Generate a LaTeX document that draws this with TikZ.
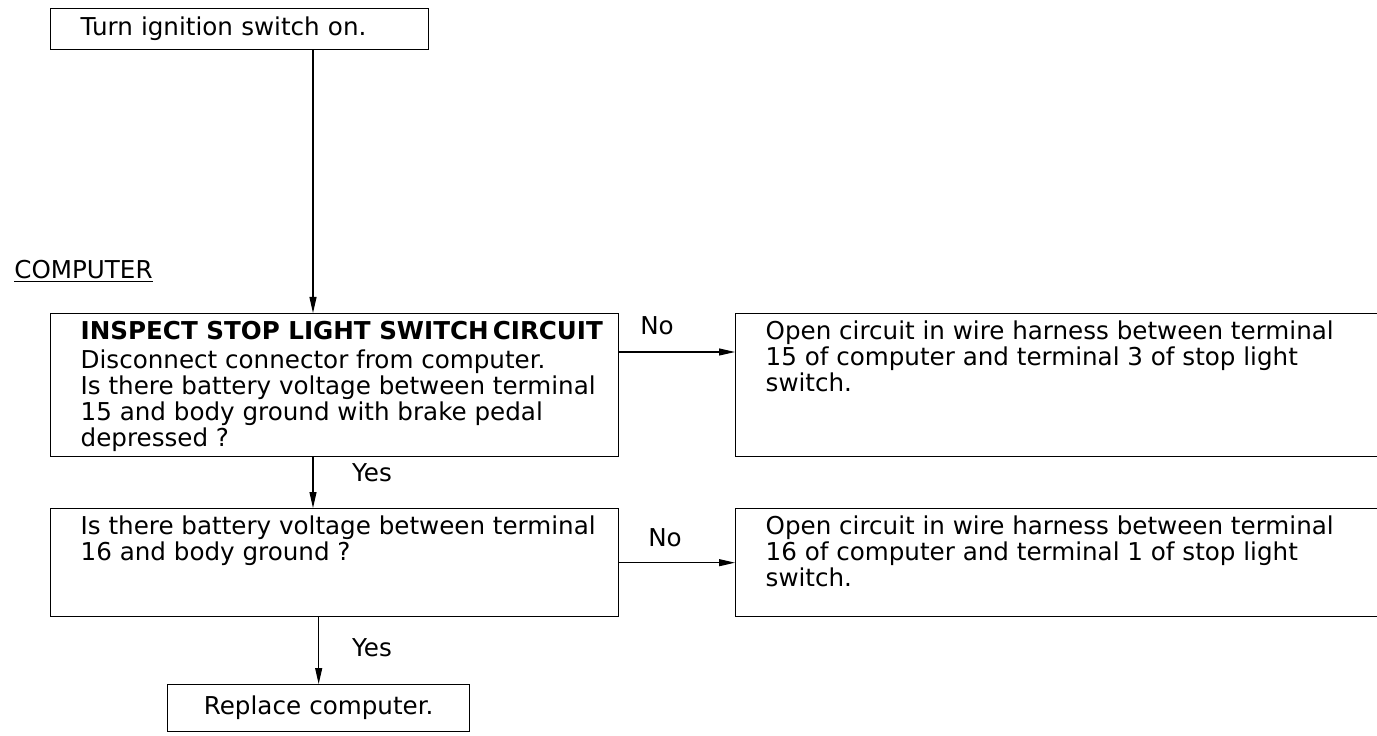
\documentclass[tikz,border=0pt]{standalone}
\usepackage{fontspec}
\setmainfont{DejaVu Sans}
\usetikzlibrary{arrows.meta}
\newcommand{\boxlines}[3]{\parbox[c][#1][t]{#2}{\raggedright\leftskip=0.6cm\vspace*{0.15cm}#3}}

\begin{document}
\begin{tikzpicture}[x=0.02cm,y=-0.02cm,
  font=\fontsize{14pt}{14.8pt}\selectfont,
  box/.style={draw,line width=0.8pt,anchor=north west,inner ysep=0pt,inner xsep=0.6cm,align=left},
  tbox/.style={box,inner xsep=0pt},
  arr/.style={line width=0.6pt,-{Triangle[length=0.32cm,width=0.14cm]}}]
\useasboundingbox (0,0) rectangle (1377,736);
\clip (0,0) rectangle (1377,736);
\node[box,text width=6.36cm,minimum height=0.82cm] (turnon) at (50,8) {Turn ignition switch on.};
\node[anchor=base west,inner sep=0pt] (computer) at (14,279) {\underline{COMPUTER}};
\node[tbox] (inspect) at (50,313) {\boxlines{2.86cm}{11.36cm}{{\bfseries INSPECT STOP LIGHT SWITCH\,CIRCUIT}\\[0.06cm]
  Disconnect connector from computer.\\
  Is there battery voltage between terminal\\
  15 and body ground with brake pedal\\
  depressed ?}};
\node[tbox] (open15) at (735,313) {\boxlines{2.86cm}{13.2cm}{Open circuit in wire harness between terminal\\
  15 of computer and terminal 3 of stop light\\
  switch.}};
\node[tbox] (voltage) at (50,508) {\boxlines{2.16cm}{11.36cm}{Is there battery voltage between terminal\\
  16 and body ground ?}};
\node[tbox] (open16) at (735,508) {\boxlines{2.16cm}{13.2cm}{Open circuit in wire harness between terminal\\
  16 of computer and terminal 1 of stop light\\
  switch.}};
\node[box,align=center,text width=4.84cm,minimum height=0.94cm] (replace) at (167,684) {Replace computer.};
\coordinate (c1) at (313,0);
\coordinate (c2) at (0,352);
\draw[arr] (turnon.south -| c1) -- (inspect.north -| c1);
\draw[arr] (inspect.south -| c1) -- (voltage.north -| c1);
\draw[arr] (c2 -| inspect.east) -- (c2 -| open15.west);
\draw[arr] (voltage.east) -- (open16.west);
\draw[arr] (voltage.south -| replace.north) -- (replace.north);
\node (no1) at (657,326) {No};
\node (no2) at (665,538) {No};
\node (yes1) at (372,473) {Yes};
\node (yes2) at (372,648) {Yes};
\end{tikzpicture}
\end{document}
